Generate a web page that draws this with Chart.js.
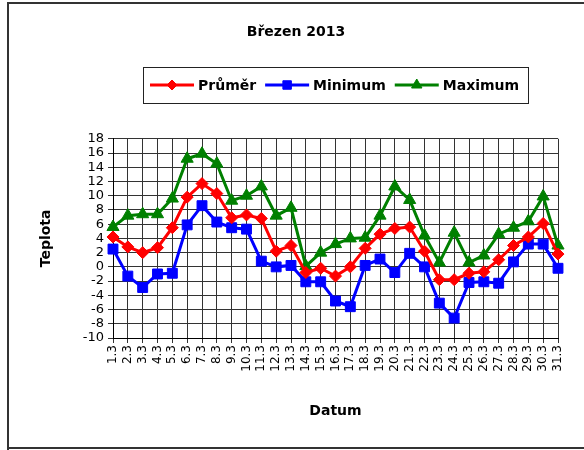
<!DOCTYPE html>
<html>
<head>
<meta charset="utf-8">
<script src="https://cdn.jsdelivr.net/npm/chart.js@4.4.1/dist/chart.umd.min.js"></script>
<style>
  html, body { margin: 0; padding: 0; background: #fff; }
  canvas { display: block; }
</style>
</head>
<body>
<canvas id="teplotaChart" width="584" height="450"></canvas>
<script>
// popisky osy X (dny v březnu)
const dny = ['1.3', '2.3', '3.3', '4.3', '5.3', '6.3', '7.3', '8.3', '9.3', '10.3',
  '11.3', '12.3', '13.3', '14.3', '15.3', '16.3', '17.3', '18.3', '19.3', '20.3',
  '21.3', '22.3', '23.3', '24.3', '25.3', '26.3', '27.3', '28.3', '29.3', '30.3', '31.3'];

// naměřené hodnoty
const prumer = [4.2, 2.8, 2.0, 2.7, 5.5, 9.8, 11.7, 10.3, 6.9, 7.3, 6.8, 2.2, 3.0, -0.8, -0.2,
  -1.3, 0.0, 2.6, 4.6, 5.4, 5.6, 2.2, -1.8, -1.8, -0.9, -0.7, 1.0, 3.0, 4.2, 6.1, 1.8];
const minimum = [2.5, -1.3, -2.9, -1.0, -0.9, 5.9, 8.6, 6.3, 5.5, 5.3, 0.8, 0.0, 0.2, -2.1, -2.1,
  -4.8, -5.6, 0.2, 1.1, -0.8, 1.9, 0.0, -5.1, -7.2, -2.2, -2.1, -2.3, 0.7, 3.2, 3.2, -0.2];
const maximum = [5.6, 7.2, 7.4, 7.4, 9.6, 15.2, 15.9, 14.5, 9.3, 10.0, 11.3, 7.2, 8.3, 0.1, 2.0,
  3.2, 4.0, 4.1, 7.2, 11.3, 9.4, 4.4, 0.6, 4.8, 0.6, 1.6, 4.6, 5.5, 6.4, 9.9, 3.0];

// osa Y
const osaMin = -10;
const osaMax = 18;
const osaKrok = 2;

const pismo = "'DejaVu Sans', sans-serif";

// rámeček kolem celého grafu
const ramecek = {
  id: 'ramecek',
  beforeDraw(chart) {
    const ctx = chart.ctx;
    ctx.save();
    ctx.fillStyle = '#fff';
    ctx.fillRect(0, 0, chart.width, chart.height);
    ctx.strokeStyle = '#333';
    ctx.lineWidth = 2;
    ctx.beginPath();
    ctx.moveTo(8, chart.height);
    ctx.lineTo(8, 3);
    ctx.lineTo(chart.width, 3);
    ctx.moveTo(8, 448);
    ctx.lineTo(chart.width, 448);
    ctx.stroke();
    ctx.restore();
  }
};

// vlastní legenda: čára se značkou, text, rámeček kolem
const legenda = {
  id: 'legenda',
  afterDraw(chart) {
    const ctx = chart.ctx;
    const cy = 85;
    let x = 150;
    ctx.save();
    ctx.font = "bold 14px " + pismo;
    ctx.textBaseline = 'middle';
    ctx.textAlign = 'left';
    chart.data.datasets.forEach((ds) => {
      ctx.strokeStyle = ds.borderColor;
      ctx.lineWidth = 3;
      ctx.beginPath();
      ctx.moveTo(x, cy);
      ctx.lineTo(x + 44, cy);
      ctx.stroke();
      ctx.fillStyle = ds.borderColor;
      ctx.lineWidth = 1;
      Chart.helpers.drawPoint(ctx, { pointStyle: ds.pointStyle, radius: ds.pointRadius - 1, borderWidth: 1 }, x + 22, cy);
      x += 48;
      ctx.fillStyle = '#000';
      ctx.fillText(ds.label, x, cy + 1);
      x += ctx.measureText(ds.label).width + 9;
    });
    ctx.strokeStyle = '#222';
    ctx.lineWidth = 1;
    ctx.strokeRect(143.5, 67.5, 385, 36);
    ctx.restore();
  }
};

const ctx = document.getElementById('teplotaChart').getContext('2d');

new Chart(ctx, {
  type: 'line',
  data: {
    labels: dny,
    datasets: [
      {
        label: 'Průměr',
        data: prumer,
        borderColor: '#ff0000',
        backgroundColor: '#ff0000',
        borderWidth: 3,
        pointStyle: 'rectRot',
        pointRadius: 6,
        pointBorderWidth: 1,
        tension: 0
      },
      {
        label: 'Minimum',
        data: minimum,
        borderColor: '#0000ff',
        backgroundColor: '#0000ff',
        borderWidth: 3,
        pointStyle: 'rect',
        pointRadius: 7,
        pointBorderWidth: 1,
        tension: 0
      },
      {
        label: 'Maximum',
        data: maximum,
        borderColor: '#008000',
        backgroundColor: '#008000',
        borderWidth: 3,
        pointStyle: 'triangle',
        pointRadius: 7,
        pointBorderWidth: 1,
        tension: 0
      }
    ]
  },
  options: {
    responsive: false,
    animation: false,
    layout: { padding: { left: 34, right: 26, top: 4, bottom: 20 } },
    plugins: {
      title: {
        display: true,
        text: 'Březen 2013',
        color: '#000',
        font: { family: pismo, size: 14, weight: 'bold' },
        padding: { top: 20, bottom: 98 }
      },
      legend: { display: false },
      tooltip: { enabled: false }
    },
    scales: {
      x: {
        offset: false,
        afterFit(scale) { scale.height = 450 - 338 - 20; },
        grid: { color: '#333', lineWidth: 1, tickLength: 5 },
        border: { color: '#000', width: 1 },
        ticks: {
          color: '#000',
          font: { family: pismo, size: 12 },
          maxRotation: 90,
          minRotation: 90,
          autoSkip: false,
          padding: 2
        },
        title: {
          display: true,
          text: 'Datum',
          color: '#000',
          font: { family: pismo, size: 14, weight: 'bold' },
          padding: { top: 4, bottom: 10 }
        }
      },
      y: {
        min: osaMin,
        max: osaMax,
        afterFit(scale) { scale.width = 113 - 34; },
        grid: { color: '#333', lineWidth: 1, tickLength: 5 },
        border: { color: '#000', width: 1 },
        ticks: {
          stepSize: osaKrok,
          autoSkip: false,
          color: '#000',
          font: { family: pismo, size: 13 },
          padding: 4
        },
        title: {
          display: true,
          text: 'Teplota',
          color: '#000',
          font: { family: pismo, size: 14, weight: 'bold' },
          padding: { top: 4, bottom: 4 }
        }
      }
    }
  },
  plugins: [ramecek, legenda]
});
</script>
</body>
</html>
